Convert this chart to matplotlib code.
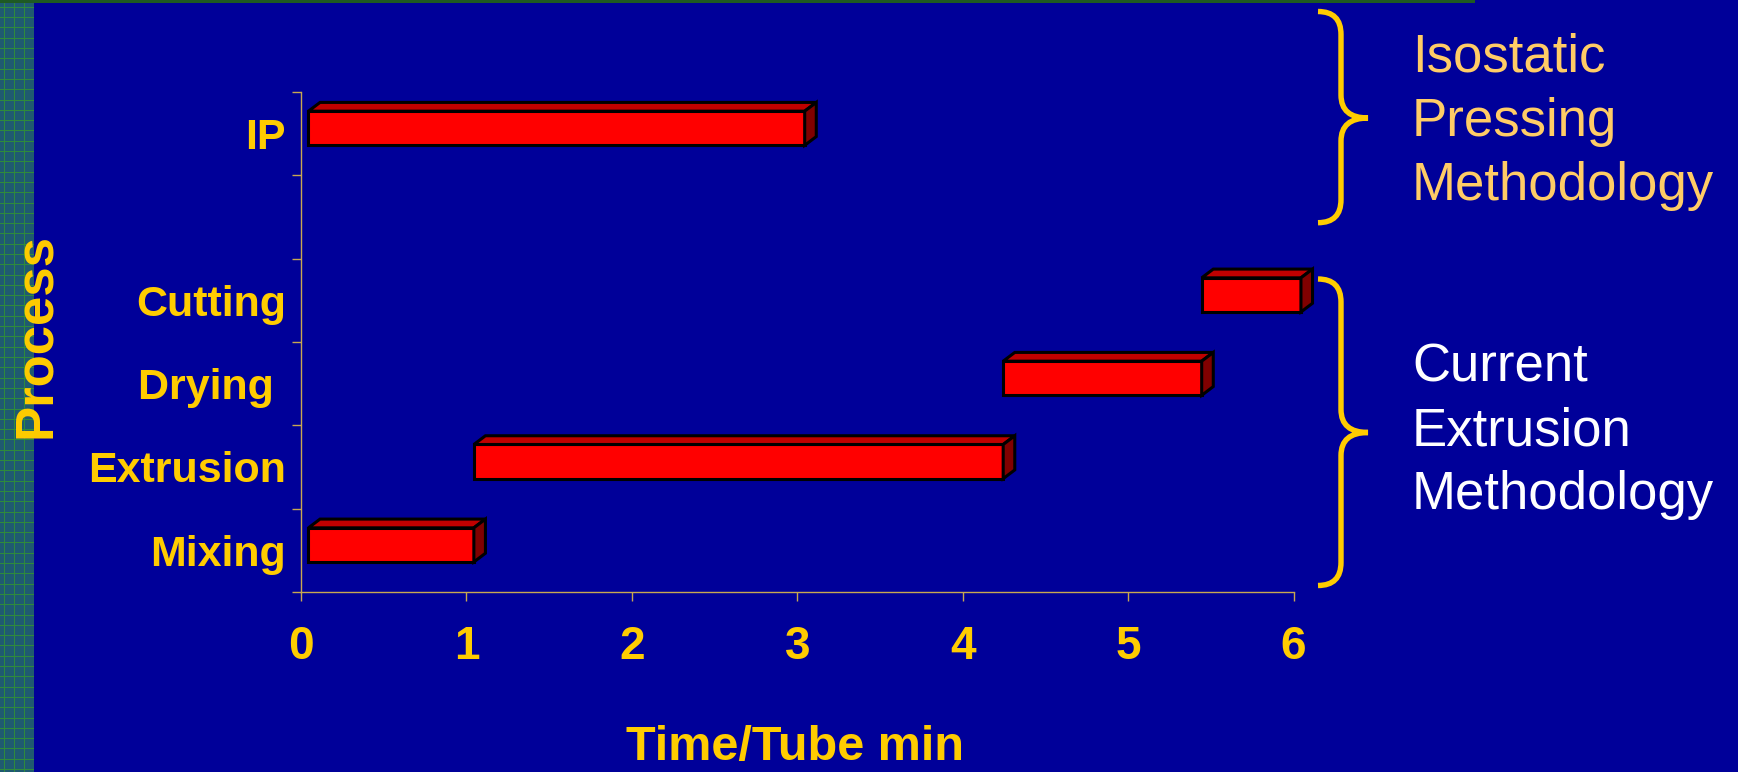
import matplotlib
matplotlib.use("Agg")
import matplotlib.pyplot as plt
import numpy as np
from matplotlib.patches import Polygon, Rectangle, PathPatch
from matplotlib.path import Path
from matplotlib.transforms import IdentityTransform

plt.rcParams['font.family'] = ['Liberation Sans', 'DejaVu Sans']

# Datos
categorias = ["Mixing", "Extrusion", "Drying ", "Cutting", "", "IP"]
tareas = ["Mixing", "Extrusion", "Drying ", "Cutting", "IP"]
inicio = [0.0, 1.0, 4.2, 5.4, 0.0]
fin = [1.0, 4.2, 5.4, 6.0, 3.0]
ticks_x = [0, 1, 2, 3, 4, 5, 6]

FONDO = "#000099"
AMARILLO = "#FFCC00"
EJE = "#C8A850"

W, H = 1738, 772
fig = plt.figure(figsize=(W / 100, H / 100), dpi=100, facecolor=FONDO)
ax = fig.add_axes([301 / W, 1 - 592 / H, 992.5 / W, 500 / H])
ax.set_facecolor(FONDO)

# franja verde a la izquierda y linea superior
fig.add_artist(Rectangle((0, 0), 34, H, transform=IdentityTransform(),
                         facecolor="#1F5A70", edgecolor="none", zorder=-2))
for gx in [3.5, 13.5, 24.0]:
    fig.add_artist(Rectangle((gx, 0), 1, H, transform=IdentityTransform(),
                             facecolor="#2E8A3C", edgecolor="none", zorder=-1))
for gy in np.arange(2, H, 10.3):
    fig.add_artist(Rectangle((0, gy), 34, 1, transform=IdentityTransform(),
                             facecolor="#2E8A3C", edgecolor="none", zorder=-1))
fig.add_artist(Rectangle((0, H - 3), 1475, 3, transform=IdentityTransform(),
                         facecolor="#1E5A22", edgecolor="none", zorder=-1))

# barras 3D
pos = [categorias.index(t) for t in tareas]
desp_x = 0.045   # desplazamiento de la cara frontal
dx, dy = 0.07, 0.105
alto = 0.41
centro = 0.065
ax.barh([p + centro for p in pos], [f - i for i, f in zip(inicio, fin)],
        left=[i + desp_x for i in inicio], height=alto, color="#FF0000",
        edgecolor="black", linewidth=2.2, zorder=3, clip_on=False)
for p, i, f in zip(pos, inicio, fin):
    x0, x1 = i + desp_x, f + desp_x
    yb, yt = p + centro - alto / 2, p + centro + alto / 2
    ax.add_patch(Polygon([(x0, yt), (x1, yt), (x1 + dx, yt + dy), (x0 + dx, yt + dy)],
                         closed=True, facecolor="#C00000", edgecolor="black",
                         linewidth=2.2, joinstyle="miter", zorder=3, clip_on=False))
    ax.add_patch(Polygon([(x1, yb), (x1 + dx, yb + dy), (x1 + dx, yt + dy), (x1, yt)],
                         closed=True, facecolor="#800000", edgecolor="black",
                         linewidth=2.2, joinstyle="miter", zorder=3, clip_on=False))

ax.set_xlim(0, 6)
ax.set_ylim(-0.5, 5.5)
for s in ["top", "right"]:
    ax.spines[s].set_visible(False)
for s in ["left", "bottom"]:
    ax.spines[s].set_color(EJE)
    ax.spines[s].set_linewidth(1.0)

ax.set_xticks(ticks_x)
ax.set_xticklabels([str(t) for t in ticks_x], fontsize=33, fontweight="bold", color=AMARILLO)
ax.tick_params(axis="x", colors=EJE, length=6.5, width=1.0, pad=17, labelcolor=AMARILLO)

ax.set_yticks(np.arange(-0.5, 6, 1))
ax.set_yticklabels([])
ax.set_yticks(range(len(categorias)), minor=True)
ax.set_yticklabels(categorias, minor=True, fontsize=31, fontweight="bold", color=AMARILLO)
ax.tick_params(axis="y", which="major", colors=EJE, length=6.5, width=1.0)
ax.tick_params(axis="y", which="minor", length=0, pad=10.8, labelcolor=AMARILLO)

ax.set_xlabel("Time/Tube min", fontsize=35, fontweight="bold", color=AMARILLO, va="baseline")
ax.xaxis.set_label_coords(0.498, -0.336)
ax.set_ylabel("Process", fontsize=38, fontweight="bold", color=AMARILLO, va="center")
ax.yaxis.set_label_coords(-0.267, 0.513)


# llaves
def llave(x_fin, x_linea, x_punta, y_sup, y_punta, y_inf):
    r = x_linea - x_fin
    pts = [(x_fin, y_sup), (x_linea, y_sup), (x_linea, y_sup + r),
           (x_linea, y_punta - r), (x_linea, y_punta), (x_punta, y_punta),
           (x_linea, y_punta), (x_linea, y_punta + r),
           (x_linea, y_inf - r), (x_linea, y_inf), (x_fin, y_inf)]
    pts = [(x, H - y) for x, y in pts]
    codes = [Path.MOVETO, Path.CURVE3, Path.CURVE3, Path.LINETO,
             Path.CURVE3, Path.CURVE3, Path.CURVE3, Path.CURVE3,
             Path.LINETO, Path.CURVE3, Path.CURVE3]
    fig.add_artist(PathPatch(Path(pts, codes), transform=IdentityTransform(),
                             facecolor="none", edgecolor=AMARILLO, linewidth=3.9,
                             capstyle="butt"))


llave(1318, 1341, 1368, 11.5, 118, 222.7)
llave(1318, 1341, 1368, 279, 432.5, 585.5)

textos_sup = ["Isostatic", "Pressing", "Methodology"]
textos_inf = ["Current", "Extrusion", "Methodology"]
for t, yb in zip(textos_sup, [71.6, 135.9, 199.8]):
    fig.text(1412 / W, 1 - yb / H, t, fontsize=38, color="#FFCC66", va="baseline", ha="left")
for t, yb in zip(textos_inf, [381.5, 445.8, 509.0]):
    fig.text(1412 / W, 1 - yb / H, t, fontsize=38, color="white", va="baseline", ha="left")

fig.savefig("out.png", dpi=100, facecolor=fig.get_facecolor())
